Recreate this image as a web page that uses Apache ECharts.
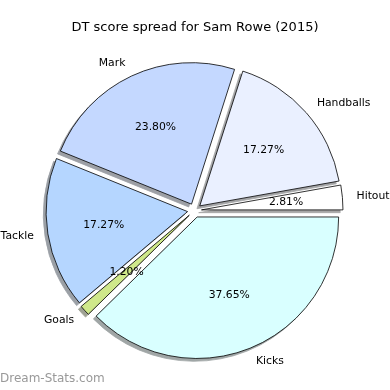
<!DOCTYPE html>
<html>
<head>
<meta charset="utf-8">
<script src="https://cdn.jsdelivr.net/npm/echarts@6/dist/echarts.min.js"></script>
<style>
html,body{margin:0;padding:0;background:#fff;}
#chart{width:390px;height:390px;}
</style>
</head>
<body>
<div id="chart"></div>
<script>
// Data (counter-clockwise from 3 o'clock)
const categories = ['Hitout', 'Handballs', 'Mark', 'Tackle', 'Goals', 'Kicks'];
const shares = [2.81, 17.27, 23.80, 17.27, 1.20, 37.65];
const palette = ['#ffffff', '#eaf0ff', '#c4d8ff', '#b5d6ff', '#cfe88a', '#d9ffff'];
const titleText = 'DT score spread for Sam Rowe (2015)';
const watermark = 'Dream-Stats.com';

const R = 141.5;
const C = [194.5, 210.5];
const EXPLODE = 7;
const SHADOW = 2.8;
const FONT = 'DejaVu Sans';

// matplotlib-like shadow: 0.3*face at alpha 0.5 over white
function shadowOf(hex) {
  const n = parseInt(hex.slice(1), 16);
  const ch = [(n >> 16) & 255, (n >> 8) & 255, n & 255].map(v => Math.round(0.15 * v + 127.5));
  return 'rgb(' + ch.join(',') + ')';
}

const chart = echarts.init(document.getElementById('chart'), null, {renderer: 'canvas'});

const shadowData = categories.map((c, i) => ({
  name: c, value: shares[i], selected: true,
  itemStyle: {color: shadowOf(palette[i]), borderColor: shadowOf(palette[i])}
}));
const mainData = categories.map((c, i) => ({
  name: c, value: shares[i], selected: true,
  itemStyle: {color: palette[i]}
}));
const labelData = categories.map((c, i) => ({
  name: c, value: shares[i], selected: true
}));

const common = {
  type: 'pie',
  left: 0, top: 0, width: 800, height: 800,
  startAngle: 0,
  clockwise: false,
  selectedMode: 'multiple',
  selectedOffset: EXPLODE,
  avoidLabelOverlap: false,
  animation: false,
  emphasis: {disabled: true},
  select: {disabled: false},
};

chart.setOption({
  animation: false,
  title: {
    text: titleText, left: 'center', top: 16,
    textStyle: {fontFamily: FONT, fontSize: 13, fontWeight: 'normal', color: '#000'}
  },
  graphic: [{
    type: 'text', left: 0, top: 373,
    style: {text: watermark, fontFamily: FONT, fontSize: 12, fill: '#999', fontWeight: 'normal'}
  }],
  series: [
    Object.assign({}, common, {
      name: 'shadow',
      silent: true,
      center: [C[0] - SHADOW, C[1] + SHADOW],
      radius: [0, R],
      data: shadowData,
      itemStyle: {borderWidth: 0.8},
      label: {show: false},
      labelLine: {show: false}
    }),
    Object.assign({}, common, {
      name: 'main',
      center: C,
      radius: [0, R],
      data: mainData,
      itemStyle: {borderColor: '#000', borderWidth: 0.8},
      label: {
        show: true, position: 'outside',
        formatter: '{b}',
        fontFamily: FONT, fontSize: 10.8, color: '#000',
        distanceToLabelLine: 0, overflow: 'none', bleedMargin: 0
      },
      labelLine: {show: false, length: 0.1 * R, length2: 0}
    }),
    Object.assign({}, common, {
      name: 'pct',
      silent: true,
      center: C,
      radius: [2 * (0.6 * R - 3) - R, R],
      data: labelData,
      itemStyle: {color: 'rgba(0,0,0,0)', borderWidth: 0},
      label: {
        show: true, position: 'inside',
        formatter: p => p.value.toFixed(2) + '%',
        fontFamily: FONT, fontSize: 10.8, color: '#000'
      },
      labelLine: {show: false}
    })
  ]
});
</script>
</body>
</html>
